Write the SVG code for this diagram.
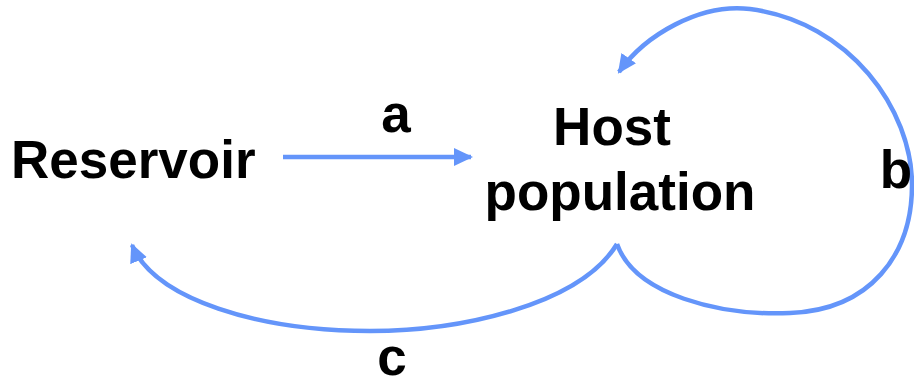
<svg xmlns="http://www.w3.org/2000/svg" width="914" height="387" viewBox="0 0 914 387">
<style>
.lbl{font-family:"Liberation Sans",Arial,sans-serif;font-weight:bold;font-size:53px;fill:#000}
.edge{fill:none;stroke:#6495fa;stroke-width:4.5}
</style>
<defs>
<marker id="ah" markerUnits="userSpaceOnUse" markerWidth="22" markerHeight="22" refX="17" refY="9" orient="auto">
<path d="M0,0 L19,9 L0,18 Z" fill="#6495fa"/>
</marker>
</defs>
<rect width="914" height="387" fill="#fff"/>
<g id="reservoir"><text class="lbl" x="11" y="178">Reservoir</text></g>
<g id="host"><text class="lbl" x="612" y="145" text-anchor="middle">Host</text><text class="lbl" x="620" y="210" text-anchor="middle">population</text></g>
<g id="connectors">
<path class="edge" d="M283,157 L471,157" marker-end="url(#ah)"/>
<path class="edge" d="M617,244 C635,295 720,316 790,313 C870,310 912,255 912,185 C912,110 850,22 750,9 C700,3 645,35 619,72" marker-end="url(#ah)"/>
<path class="edge" d="M617,244 C580,305 460,331 370,331 C260,331 155,300 132,245" marker-end="url(#ah)"/>
<text class="lbl" x="396" y="132" text-anchor="middle">a</text>
<text class="lbl" x="896" y="188" text-anchor="middle">b</text>
<text class="lbl" x="392" y="375" text-anchor="middle">c</text>
</g>
</svg>
